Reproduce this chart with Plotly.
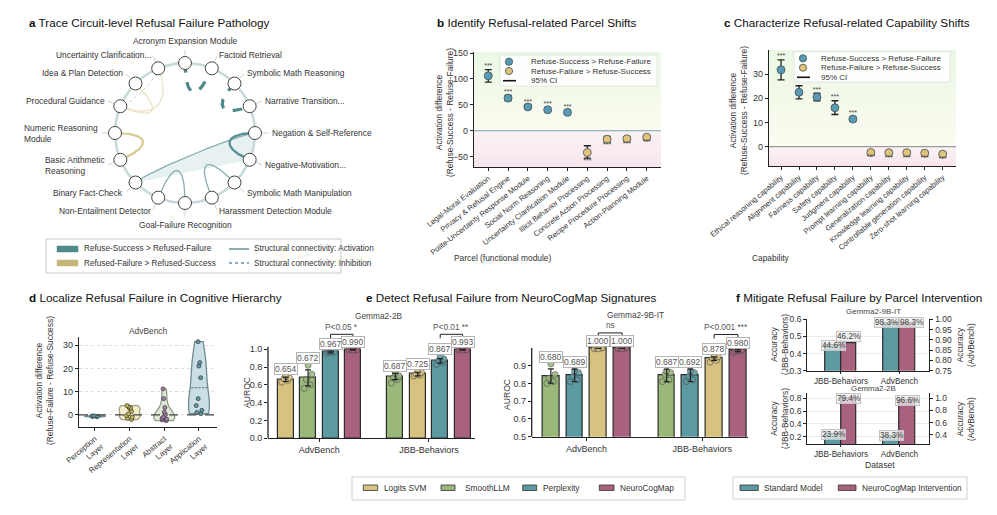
import numpy as np
import plotly.graph_objects as go

W, H = 997, 515
FONT = "Liberation Sans, Arial, sans-serif"

# ---------------- Panel a data ----------------
a_nodes = ["Acronym Expansion Module", "Factoid Retrieval", "Symbolic Math Reasoning",
           "Narrative Transition...", "Negation & Self-Reference", "Negative-Motivation...",
           "Symbolic Math Manipulation", "Harassment Detection Module", "Goal-Failure Recognition",
           "Non-Entailment Detector", "Binary Fact-Check", "Basic Arithmetic<br>Reasoning",
           "Numeric Reasoning<br>Module", "Procedural Guidance", "Idea & Plan Detection",
           "Uncertainty Clarification..."]
a_edge_src = [0, 2, 4, 4, 9, 7, 12, 14, 15, 15]
a_edge_dst = [1, 3, 10, 5, 8, 6, 11, 13, 13, 13]
a_edge_type = ["success", "success", "activation", "success_solid", "activation", "activation",
               "failure", "failure_light", "failure_light", "inhibition"]
a_ribbon = [4, 10, 5]

# ---------------- Panel b data ----------------
b_cats = ["Legal-Moral Evaluation", "Privacy & Refusal Engine", "Polite-Uncertainty Response Module",
          "Social Norm Reasoning", "Uncertainty Clarification Module", "Illicit Behavior Processing",
          "Concrete Action Processing", "Recipe Procedure Processing", "Action-Planning Module"]
b_vals = [106, 63, 46, 40.5, 35.5, -42, -16.5, -15.5, -12.5]
b_lo = [94, 58, 43, 37.5, 33, -53, -22, -19, -15.5]
b_hi = [118, 68, 49, 43.5, 38.5, -29, -11, -12, -9.5]

# ---------------- Panel c data ----------------
c_cats = ["Ethical reasoning capability", "Alignment capability", "Fairness capability",
          "Safety capability", "Judgment capability", "Prompt learning capability",
          "Generalization capability", "Knowledge learning capability",
          "Controllable generation capability", "Zero-shot learning capability"]
c_vals = [31.8, 22.5, 20.5, 16.1, 11.4, -2.4, -2.5, -2.5, -2.7, -3.1]
c_lo = [27.6, 19.8, 19.0, 13.3, 10.6, -3.1, -3.2, -3.2, -3.4, -3.8]
c_hi = [35.9, 25.2, 22.1, 19.0, 12.2, -1.7, -1.8, -1.8, -2.0, -2.4]

# ---------------- Panel d data ----------------
d_layers = ["Perception<br>Layer", "Representation<br>Layer", "Abstract<br>Layer", "Application<br>Layer"]
d_points = [
    [-0.8, -0.6, -0.5, -0.4, -0.7],
    [4.0, 3.5, 2.8, 1.5, 0.5, -0.3, -1.0, -2.0, 3.0, -1.5],
    [11.2, 7.0, 3.2, 1.2, 0.2, -0.8, -1.8, -2.5, -2.2, -1.4],
    [31.5, 22.5, 21.0, 16.0, 7.0, 4.0, 2.0, 1.0, 0.5],
]

# ---------------- Panel e data ----------------
e_groups = ["AdvBench", "JBB-Behaviors"]
e_methods_legend = ["Logits SVM", "SmoothLLM", "Perplexity", "NeuroCogMap"]
e2b_methods = [["Logits SVM", "SmoothLLM", "Perplexity", "NeuroCogMap"],
               ["SmoothLLM", "Logits SVM", "Perplexity", "NeuroCogMap"]]
e2b_heights = [[0.663, 0.678, 0.970, 0.995], [0.695, 0.722, 0.870, 0.995]]
e2b_err = [[0.025, 0.09, 0.010, 0.004], [0.035, 0.020, 0.025, 0.004]]
e2b_labels = [["0.654", "0.672", "0.967", "0.990"], ["0.687", "0.725", "0.867", "0.993"]]
e2b_points = [[[0.63, 0.65, 0.67, 0.68, 0.70], [0.56, 0.60, 0.66, 0.72, 0.82],
               [0.955, 0.965, 0.97, 0.975, 0.98], [0.99, 0.995, 1.0, 0.995, 0.99]],
              [[0.62, 0.66, 0.68, 0.70, 0.73], [0.70, 0.71, 0.72, 0.74, 0.76],
               [0.83, 0.85, 0.87, 0.89, 0.92], [0.99, 0.995, 1.0, 0.995, 0.99]]]
e2b_sig = [("P<0.05 *", 2, 3), ("P<0.01 **", 2, 3)]

e9b_methods = [["SmoothLLM", "Perplexity", "Logits SVM", "NeuroCogMap"],
               ["SmoothLLM", "Perplexity", "Logits SVM", "NeuroCogMap"]]
e9b_heights = [[0.842, 0.846, 0.998, 0.998], [0.845, 0.846, 0.940, 0.985]]
e9b_err = [[0.04, 0.035, 0.0, 0.0], [0.035, 0.035, 0.01, 0.006]]
e9b_labels = [["0.680", "0.689", "1.000", "1.000"], ["0.687", "0.692", "0.878", "0.980"]]
e9b_points = [[[0.80, 0.81, 0.83, 0.85, 0.91], [0.81, 0.82, 0.84, 0.86, 0.87],
               [0.995, 1.0, 1.0, 1.0, 0.995], [0.995, 1.0, 1.0, 1.0, 0.995]],
              [[0.81, 0.82, 0.85, 0.86, 0.87], [0.81, 0.82, 0.84, 0.86, 0.87],
               [0.92, 0.93, 0.94, 0.95, 0.955], [0.975, 0.98, 0.985, 0.99, 0.99]]]
e9b_sig = [("ns", 2, 3), ("P<0.001 ***", 2, 3)]

# ---------------- Panel f data ----------------
f_datasets = ["JBB-Behaviors", "AdvBench"]
f_series = ["Standard Model", "NeuroCogMap Intervention"]
f9b_acc = [[0.446, 0.462], [0.983, 0.983]]   # [dataset][series]
f9b_text = [["44.6%", "46.2%"], ["98.3%", "98.3%"]]
f2b_acc = [[0.239, 0.794], [0.383, 0.966]]
f2b_text = [["23.9%", "79.4%"], ["38.3%", "96.6%"]]

# ---------------- styles ----------------
C_POS, C_NEG = "#5a9ab4", "#e0c37a"
M_COL = {"Logits SVM": "#d8c27f", "SmoothLLM": "#9bb87b", "Perplexity": "#5c9aa1", "NeuroCogMap": "#a8627f"}
F_COL = {"Standard Model": "#5c9aa1", "NeuroCogMap Intervention": "#a8627f"}
A_STYLE = {
    "success": dict(color="#4f8a8b", width=3.2, dash="dash"),
    "success_solid": dict(color="#5b9294", width=2.4, dash="solid"),
    "activation": dict(color="#88aeb2", width=1.3, dash="solid"),
    "failure": dict(color="#d9ca92", width=2.2, dash="solid"),
    "failure_light": dict(color="#ebe2c4", width=1.3, dash="solid"),
    "inhibition": dict(color="#c9d6d8", width=1.0, dash="dot"),
}
A_BEND = [0.48, 0.56, 0.8, 0.55, 0.41, 0.42, 0.5, 0.44, 0.47, 0.9]
TITLE_SIZE = 11.7

fig = go.Figure()
shapes, anns = [], []


def P(x, y):
    return x / W, 1 - y / H


def dom_x(x0, x1):
    return [x0 / W, x1 / W]


def dom_y(top, bottom):
    return [1 - bottom / H, 1 - top / H]


def text(x, y, s, size=8, xa="left", ya="middle", color="#333", **kw):
    X, Y = P(x, y)
    anns.append(dict(x=X, y=Y, xref="paper", yref="paper", text=s, showarrow=False,
                     xanchor=xa, yanchor=ya, font=dict(size=size, color=color, family=FONT), **kw))


def rect(x0, y0, x1, y1, fill, line="#333", lw=0.8):
    X0, Y0 = P(x0, y0)
    X1, Y1 = P(x1, y1)
    shapes.append(dict(type="rect", xref="paper", yref="paper", x0=X0, x1=X1, y0=Y1, y1=Y0,
                       fillcolor=fill, line=dict(color=line, width=lw)))


def hline(x0, x1, y, color, lw=1.2, dash="solid"):
    X0, Y = P(x0, y)
    X1, _ = P(x1, y)
    shapes.append(dict(type="line", xref="paper", yref="paper", x0=X0, x1=X1, y0=Y, y1=Y,
                       line=dict(color=color, width=lw, dash=dash)))


def circ(cx, cy, r, fill, line="#3d4f55"):
    X0, Y0 = P(cx - r, cy + r)
    X1, Y1 = P(cx + r, cy - r)
    shapes.append(dict(type="circle", xref="paper", yref="paper", x0=X0, x1=X1, y0=Y0, y1=Y1,
                       fillcolor=fill, line=dict(color=line, width=0.8)))


# ======================= Panel a =======================
def node_xy(i):
    ang = np.deg2rad(90 - 360.0 / len(a_nodes) * i)
    return np.array([np.cos(ang), np.sin(ang)])


def bez(i, j, k, n=80):
    p0, p3 = node_xy(i), node_xy(j)
    p1, p2 = p0 * k, p3 * k
    t = np.linspace(0, 1, n)[:, None]
    return (1 - t) ** 3 * p0 + 3 * (1 - t) ** 2 * t * p1 + 3 * (1 - t) * t ** 2 * p2 + t ** 3 * p3


# ribbon
r_a, r_b, r_c = a_ribbon
seg1 = bez(r_a, r_b, A_BEND[2])
seg2 = bez(r_b, r_c, 1.0)
ang_c = np.deg2rad(90 - 22.5 * r_c)
ang_a = np.deg2rad(90 - 22.5 * r_a)
arc = np.column_stack([np.cos(np.linspace(ang_c, ang_a, 10)), np.sin(np.linspace(ang_c, ang_a, 10))])
poly = np.vstack([seg1, seg2, arc])
fig.add_trace(go.Scatter(x=poly[:, 0], y=poly[:, 1], mode="lines", fill="toself",
                         fillcolor="rgba(205,224,224,0.45)", line=dict(width=0),
                         xaxis="x", yaxis="y", hoverinfo="skip"))
# ring
th = np.linspace(0, 2 * np.pi, 200)
fig.add_trace(go.Scatter(x=np.cos(th), y=np.sin(th), mode="lines",
                         line=dict(color="#c7d9da", width=2.6), xaxis="x", yaxis="y", hoverinfo="skip"))
# edges
for s, d, typ, k in zip(a_edge_src, a_edge_dst, a_edge_type, A_BEND):
    pts = bez(s, d, k)
    st = A_STYLE[typ]
    fig.add_trace(go.Scatter(x=pts[:, 0], y=pts[:, 1], mode="lines",
                             line=dict(color=st["color"], width=st["width"], dash=st["dash"]),
                             xaxis="x", yaxis="y", hoverinfo="skip"))
# radial ticks
tx, ty = [], []
for i in range(len(a_nodes)):
    p = node_xy(i)
    tx += [p[0] * 1.1, p[0] * 1.19, None]
    ty += [p[1] * 1.1, p[1] * 1.19, None]
fig.add_trace(go.Scatter(x=tx, y=ty, mode="lines", line=dict(color="#c4c4c4", width=0.8),
                         xaxis="x", yaxis="y", hoverinfo="skip"))
# nodes
nxy = np.array([node_xy(i) for i in range(len(a_nodes))])
fig.add_trace(go.Scatter(x=nxy[:, 0], y=nxy[:, 1], mode="markers",
                         marker=dict(size=13, color="white", line=dict(color="#444", width=1)),
                         xaxis="x", yaxis="y", hoverinfo="skip"))
# node labels
for i, lab in enumerate(a_nodes):
    p = node_xy(i) * 1.21
    if abs(p[0]) < 0.1:
        xa = "center"
        ya = "bottom" if p[1] > 0 else "top"
    else:
        xa = "left" if p[0] > 0 else "right"
        ya = "middle"
    anns.append(dict(x=p[0], y=p[1], xref="x", yref="y", text=lab, showarrow=False,
                     xanchor=xa, yanchor=ya, align="left",
                     font=dict(size=8.4, color="#333", family=FONT)))

# legend a
rect(46, 239, 341, 273, "white", line="#c8c8c8", lw=1)
rect(57, 246, 78, 252, "#4f8a8b", line="#4f8a8b", lw=0.5)
text(82, 249, "Refuse-Success > Refused-Failure", 8.2)
rect(57, 260, 78, 266, "#c6b679", line="#c6b679", lw=0.5)
text(82, 263, "Refused-Failure > Refused-Success", 8.2)
hline(229, 249, 249, "#6f9aa0", 1.6)
text(252, 249, "Structural connectivity: Activation", 8.2)
hline(229, 249, 263, "#6f8ea6", 1.3, "dot")
text(252, 263, "Structural connectivity: Inhibition", 8.2)


# ======================= Panels b & c =======================
def gradient(xdom, yref, ymin, ymax, n=60):
    edges = np.linspace(ymin, ymax, n + 1)
    for lo, hi in zip(edges[:-1], edges[1:]):
        m = (lo + hi) / 2
        if m >= 0:
            t = m / ymax
            c0, c1 = (252, 251, 240), (233, 248, 227)
        else:
            t = m / ymin
            c0, c1 = (251, 242, 244), (247, 228, 238)
        col = tuple(int(round(c0[q] + (c1[q] - c0[q]) * t)) for q in range(3))
        shapes.append(dict(type="rect", xref=xdom, yref=yref, x0=0, x1=1, y0=lo,
                           y1=hi + (ymax - ymin) * 0.002, fillcolor="rgb(%d,%d,%d)" % col,
                           line=dict(width=0), layer="below"))


def shift_panel(cats, vals, lo, hi, xa, ya, ms=8):
    xs = list(range(len(cats)))
    cols = [C_POS if v > 0 else C_NEG for v in vals]
    fig.add_trace(go.Scatter(
        x=xs, y=vals, mode="markers", xaxis=xa, yaxis=ya,
        marker=dict(size=ms, color=cols, line=dict(color="#3f5157", width=0.8)),
        error_y=dict(type="data", symmetric=False,
                     array=[h - v for h, v in zip(hi, vals)],
                     arrayminus=[v - l for v, l in zip(vals, lo)],
                     color="#222", thickness=1.3, width=3.5),
        hoverinfo="skip"))
    sy = [h if v > 0 else l for v, h, l in zip(vals, hi, lo)]
    sp = ["top center" if v > 0 else "bottom center" for v in vals]
    fig.add_trace(go.Scatter(x=xs, y=sy, mode="text", text=["***"] * len(xs), textposition=sp,
                             textfont=dict(size=7, color="#444", family=FONT), cliponaxis=False,
                             xaxis=xa, yaxis=ya, hoverinfo="skip"))


B_RANGE = [-70, 152]
C_RANGE = [-8, 40]
gradient("x2 domain", "y2", B_RANGE[0], B_RANGE[1])
gradient("x3 domain", "y3", C_RANGE[0], C_RANGE[1])
shapes.append(dict(type="line", xref="x2 domain", yref="y2", x0=0, x1=1, y0=0, y1=0,
                   line=dict(color="#7aa3ab", width=1.1), layer="below"))
shapes.append(dict(type="line", xref="x3 domain", yref="y3", x0=0, x1=1, y0=0, y1=0,
                   line=dict(color="#9a9a9a", width=1.3), layer="below"))
shift_panel(b_cats, b_vals, b_lo, b_hi, "x2", "y2")
shift_panel(c_cats, c_vals, c_lo, c_hi, "x3", "y3")

# legends b, c
for (bx0, by0, bx1, by1, mx, tx0, ry) in [(500, 55, 657, 86, 509, 529, [61.7, 71, 80.7]),
                                          (794, 51.7, 950, 82, 803, 819, [58.3, 67.7, 77.3])]:
    rect(bx0, by0, bx1, by1, "rgba(255,255,255,0.9)", line="#dddddd", lw=0.8)
    circ(mx, ry[0], 3.6, C_POS)
    circ(mx, ry[1], 3.6, C_NEG)
    hline(mx - 6, mx + 7, ry[2], "#111", 1.6)
    text(tx0, ry[0], "Refuse-Success > Refuse-Failure", 8.0)
    text(tx0, ry[1], "Refuse-Failure > Refuse-Success", 8.0)
    text(tx0, ry[2], "95% CI", 8.0)

# axis titles b, c
text(445, 113, "Activation difference<br>(Refuse-Success - Refuse-Failure)", 8.4, xa="center",
     textangle=-90)
text(738, 111, "Activation difference<br>(Refuse-Success - Refuse-Failure)", 8.4, xa="center",
     textangle=-90)
text(503, 258, "Parcel (functional module)", 8.4, xa="center")
text(771, 258, "Capability", 8.4, xa="center")

# ======================= Panel d =======================
D_FILL = ["#bcd5dd", "#f4edcc", "#dfe9d3", "#c9dfe5"]
D_LINE = ["#6d8e98", "#a69f7c", "#8d9d84", "#6f8b91"]
D_PT = ["#5f9aaa", "#c8b955", "#a77fae", "#5f9aaa"]
for i, pts in enumerate(d_points):
    fig.add_trace(go.Violin(
        x=[i] * len(pts), y=pts, xaxis="x4", yaxis="y4", spanmode="hard", points="all",
        pointpos=0, jitter=0.35, width=0.6, scalemode="width", side="both",
        fillcolor=D_FILL[i], line=dict(color=D_LINE[i], width=1.3),
        marker=dict(size=4, color=D_PT[i], line=dict(color="#333", width=0.7)),
        meanline=dict(visible=(i == 3), color="#6f8b91", width=1.2),
        box=dict(visible=False), hoverinfo="skip", name=d_layers[i]))
shapes.append(dict(type="line", xref="x4 domain", yref="y4", x0=0, x1=1, y0=0, y1=0,
                   line=dict(color="#444", width=1.2, dash="dash")))
text(148, 331, "AdvBench", 8.4, xa="center", color="#444")
text(44, 381, "Activation difference<br>(Refuse-Failure - Refuse-Success)", 8.4, xa="center",
     textangle=-90)

# ======================= Panel e =======================
E_SLOT, E_BARW = 0.205, 0.145
E_JIT = [-0.035, 0.02, -0.015, 0.035, 0.0]


def draw_e(xa, ya, methods, heights, errs, pts, labels, sigs, upx):
    xs, ys, cols, es = [], [], [], []
    for g in range(len(e_groups)):
        for s in range(4):
            xs.append(g + (s - 1.5) * E_SLOT)
            ys.append(heights[g][s])
            cols.append(M_COL[methods[g][s]])
            es.append(errs[g][s])
    fig.add_trace(go.Bar(x=xs, y=ys, width=E_BARW,
                         marker=dict(color=cols, line=dict(color="#2b2b2b", width=1.2)),
                         xaxis=xa, yaxis=ya, hoverinfo="skip"))
    px_, py_, pc_ = [], [], []
    for g in range(len(e_groups)):
        for s in range(4):
            x0 = g + (s - 1.5) * E_SLOT
            for j, v in enumerate(pts[g][s]):
                px_.append(x0 + E_JIT[j % len(E_JIT)])
                py_.append(v)
                pc_.append(M_COL[methods[g][s]])
    fig.add_trace(go.Scatter(x=px_, y=py_, mode="markers", xaxis=xa, yaxis=ya,
                             marker=dict(size=6, color=pc_, opacity=0.85,
                                         line=dict(color="#4a4a4a", width=0.7)),
                             cliponaxis=False, hoverinfo="skip"))
    fig.add_trace(go.Scatter(x=xs, y=ys, mode="markers", marker=dict(size=1, opacity=0),
                             xaxis=xa, yaxis=ya,
                             error_y=dict(type="data", array=es, color="#222", thickness=1.2, width=3),
                             hoverinfo="skip"))
    tops = {}
    for g in range(len(e_groups)):
        for s in range(4):
            x0 = g + (s - 1.5) * E_SLOT
            top = max(max(pts[g][s]), heights[g][s] + errs[g][s])
            tops[(g, s)] = top
            anns.append(dict(x=x0, y=top, xref=xa, yref=ya, text=labels[g][s],
                             showarrow=False, xanchor="center", yanchor="bottom", yshift=1,
                             bgcolor="white", bordercolor="#b5b5b5", borderwidth=1, borderpad=0,
                             font=dict(size=8.5, color="#555", family=FONT)))
    for g, (lab, s1, s2) in enumerate(sigs):
        xa1 = g + (s1 - 1.5) * E_SLOT
        xa2 = g + (s2 - 1.5) * E_SLOT
        yb = max(tops[(g, s1)], tops[(g, s2)]) + 15 * upx
        fig.add_trace(go.Scatter(x=[xa1, xa1, xa2, xa2], y=[yb - 4 * upx, yb, yb, yb - 4 * upx],
                                 mode="lines", line=dict(color="#222", width=1), xaxis=xa, yaxis=ya,
                                 hoverinfo="skip"))
        anns.append(dict(x=(xa1 + xa2) / 2, y=yb, xref=xa, yref=ya, text=lab, showarrow=False,
                         xanchor="center", yanchor="bottom", yshift=0.5,
                         font=dict(size=8.3, color="#555", family=FONT)))


E2_DOM = (322.6, 438.3)
E2_RANGE = [0, 1.3]
E9_DOM = (321.3, 436.7)
E9_RANGE = [0.5, 1.15]
up2 = (E2_RANGE[1] - E2_RANGE[0]) / (E2_DOM[1] - E2_DOM[0])
up9 = (E9_RANGE[1] - E9_RANGE[0]) / (E9_DOM[1] - E9_DOM[0])
draw_e("x5", "y5", e2b_methods, e2b_heights, e2b_err, e2b_points, e2b_labels, e2b_sig, up2)
draw_e("x6", "y6", e9b_methods, e9b_heights, e9b_err, e9b_points, e9b_labels, e9b_sig, up9)
shapes.append(dict(type="line", xref="x5 domain", yref="y5", x0=0, x1=0, y0=0, y1=1.03,
                   line=dict(color="#222", width=1.3)))
shapes.append(dict(type="line", xref="x6 domain", yref="y6", x0=0, x1=0, y0=0.5, y1=1.0,
                   line=dict(color="#222", width=1.3)))
text(378, 315.5, "Gemma2-2B", 8.3, xa="center", color="#444")
text(635, 315, "Gemma2-9B-IT", 8.3, xa="center", color="#444")
text(247, 393, "AUROC", 8.6, xa="center", textangle=-90)
text(507, 395, "AUROC", 8.6, xa="center", textangle=-90)

# legend e
rect(352, 477, 685, 500, "white", line="#cfcfcf", lw=1)
for (sx0, sx1, tx0, m) in zip([363.3, 441, 522.7, 599.3], [377.7, 455, 536.7, 614],
                              [381.7, 462.7, 541, 618], e_methods_legend):
    rect(sx0, 485, sx1, 490.5, M_COL[m], line="#333", lw=0.8)
    text(tx0, 488, m, 8.3)

# ======================= Panel f =======================
F_OFF, F_BARW = 0.135, 0.27
F_XRANGE = [-0.576, 1.51]
F_XDOM = (807.3, 929.3)
F_LW, F_LH = 25.0, 9.5


def draw_f(xa, yl, yr, acc, txt, rng_l, rng_r, ydom):
    ypx = ydom[1] - ydom[0]
    xupx = (F_XRANGE[1] - F_XRANGE[0]) / (F_XDOM[1] - F_XDOM[0])
    for di in range(len(f_datasets)):
        yax = yl if di == 0 else yr
        rng = rng_l if di == 0 else rng_r
        xs = [di + (si - 0.5) * 2 * F_OFF for si in range(len(f_series))]
        fig.add_trace(go.Bar(x=xs, y=acc[di], width=F_BARW, xaxis=xa, yaxis=yax,
                             marker=dict(color=[F_COL[s] for s in f_series],
                                         line=dict(color="#2b2b2b", width=1.2)),
                             hoverinfo="skip"))
        # simple label de-overlap (like adjustText)
        lab_py = [(v - rng[0]) / (rng[1] - rng[0]) * ypx for v in acc[di]]
        xsh, ysh = [0.0, 0.0], [0.0, 0.0]
        dx = (xs[1] - xs[0]) / xupx
        dy = lab_py[1] - lab_py[0]
        if abs(dy) < F_LH and dx < F_LW:
            if abs(dy) < 1:
                push = (F_LW - dx) / 2
                xsh = [-push, push]
            else:
                hi = 1 if dy > 0 else 0
                ysh[hi] += F_LH - abs(dy)
        for si in range(len(f_series)):
            anns.append(dict(x=xs[si], y=acc[di][si], xref=xa, yref=yax, text=txt[di][si],
                             showarrow=False, xanchor="center", yanchor="middle",
                             xshift=xsh[si], yshift=ysh[si],
                             bgcolor="rgba(235,235,235,0.75)", bordercolor="#c4c4c4", borderwidth=1,
                             borderpad=0, font=dict(size=8.2, color="#444", family=FONT)))


F9_DOM = (319.3, 370.7)
F2_DOM = (393.3, 444.3)
F9_L, F9_R = [0.3, 0.6], [0.75, 1.0]
F2_L, F2_R = [0.081, 0.878], [0.247, 1.08]
draw_f("x7", "y7", "y8", f9b_acc, f9b_text, F9_L, F9_R, F9_DOM)
draw_f("x9", "y9", "y10", f2b_acc, f2b_text, F2_L, F2_R, F2_DOM)
text(873, 311, "Gemma2-9B-IT", 8.0, xa="center", color="#444")
text(873, 388.3, "Gemma2-2B", 7.9, xa="center", color="#444")
text(880, 465, "Dataset", 8.6, xa="center", color="#333")
text(779, 345, "Accuracy<br>(JBB-Behaviors)", 8.4, xa="center", textangle=-90)
text(965, 345, "Accuracy<br>(AdvBench)", 8.4, xa="center", textangle=-90)
text(779, 419, "Accuracy<br>(JBB-Behaviors)", 8.4, xa="center", textangle=-90)
text(965, 419, "Accuracy<br>(AdvBench)", 8.4, xa="center", textangle=-90)

rect(733, 477, 967, 499, "white", line="#cfcfcf", lw=1)
rect(740, 485, 758.3, 490.5, F_COL["Standard Model"], line="#333", lw=0.8)
text(762.3, 488, "Standard Model", 8.3)
rect(838.3, 485, 856, 490.5, F_COL["NeuroCogMap Intervention"], line="#333", lw=0.8)
text(860, 488, "NeuroCogMap Intervention", 8.3)

# ======================= Titles =======================
text(27, 22.7, "<b>a</b> Trace Circuit-level Refusal Failure Pathology", TITLE_SIZE, color="#111")
text(435, 22.7, "<b>b</b> Identify Refusal-related Parcel Shifts", TITLE_SIZE, color="#111")
text(722, 22.7, "<b>c</b> Characterize Refusal-related Capability Shifts", TITLE_SIZE, color="#111")
text(27, 297.3, "<b>d</b> Localize Refusal Failure in Cognitive Hierarchy", TITLE_SIZE, color="#111")
text(364, 297.3, "<b>e</b> Detect Refusal Failure from NeuroCogMap Signatures", TITLE_SIZE, color="#111")
text(734, 297.3, "<b>f</b> Mitigate Refusal Failure by Parcel Intervention", TITLE_SIZE, color="#111")

# ======================= Axes =======================
TF = dict(size=9, color="#333", family=FONT)
TFF = dict(size=8.5, color="#333", family=FONT)
TFX = dict(size=8.2, color="#333", family=FONT)


def ax(**kw):
    d = dict(showline=True, linecolor="#222", linewidth=1.3, ticks="outside", ticklen=3, tickwidth=1,
             tickcolor="#222", tickfont=TF, showgrid=False, zeroline=False, fixedrange=True,
             automargin=False)
    d.update(kw)
    return d


R = 1.2857
XL = dict(size=7.6, color="#333", family=FONT)
layout_axes = dict(
    xaxis=dict(domain=dom_x(95, 275), range=[-R, R], visible=False, anchor="y", automargin=False),
    yaxis=dict(domain=dom_y(43, 223), range=[-R, R], visible=False, anchor="x", automargin=False),
    xaxis2=ax(domain=dom_x(474, 661), range=[-0.72, 8.72], tickvals=list(range(len(b_cats))),
              ticktext=b_cats, tickangle=-38, tickfont=XL, anchor="y2"),
    yaxis2=ax(domain=dom_y(52, 167), range=B_RANGE, tickvals=[-50, 0, 50, 100, 150], anchor="x2"),
    xaxis3=ax(domain=dom_x(769, 956), range=[-0.67, 9.74], tickvals=list(range(len(c_cats))),
              ticktext=c_cats, tickangle=-40, tickfont=XL, anchor="y3"),
    yaxis3=ax(domain=dom_y(50, 166), range=C_RANGE, tickvals=[0, 10, 20, 30], anchor="x3"),
    xaxis4=ax(domain=dom_x(79, 217), range=[-0.46, 3.52], tickvals=list(range(len(d_layers))),
              ticktext=d_layers, tickangle=-40, tickfont=dict(size=7.8, color="#333", family=FONT),
              anchor="y4"),
    yaxis4=ax(domain=dom_y(337, 427), range=[-5.2, 33.5], tickvals=[0, 10, 20, 30], anchor="x4",
              showgrid=True, gridcolor="#dcdcdc", griddash="dot", gridwidth=0.8),
    xaxis5=ax(domain=dom_x(268, 475), range=[-0.468, 1.42], tickvals=[0, 1], ticktext=e_groups, anchor="y5"),
    yaxis5=ax(domain=dom_y(*E2_DOM), range=E2_RANGE, tickvals=[0, 0.2, 0.4, 0.6, 0.8, 1.0],
              tickformat=".1f", anchor="x5", showline=False),
    xaxis6=ax(domain=dom_x(531.7, 748), range=[-0.473, 1.395], tickvals=[0, 1], ticktext=e_groups, anchor="y6"),
    yaxis6=ax(domain=dom_y(*E9_DOM), range=E9_RANGE, tickvals=[0.5, 0.6, 0.7, 0.8, 0.9],
              tickformat=".1f", anchor="x6", showline=False),
    xaxis7=ax(domain=dom_x(*F_XDOM), range=F_XRANGE, tickvals=[0, 1], ticktext=f_datasets, anchor="y7",
              tickfont=TFX, ticklen=2),
    yaxis7=ax(domain=dom_y(*F9_DOM), range=F9_L, tickvals=[0.3, 0.4, 0.5, 0.6], tickformat=".1f",
              anchor="x7", showgrid=True, gridcolor="#ececec", tickfont=TFF),
    yaxis8=ax(overlaying="y7", side="right", anchor="x7", range=F9_R,
              tickvals=[0.75, 0.8, 0.85, 0.9, 0.95, 1.0], tickformat=".2f", tickfont=TFF),
    xaxis9=ax(domain=dom_x(*F_XDOM), range=F_XRANGE, tickvals=[0, 1], ticktext=f_datasets, anchor="y9",
              tickfont=TFX, ticklen=2),
    yaxis9=ax(domain=dom_y(*F2_DOM), range=F2_L, tickvals=[0.2, 0.4, 0.6, 0.8], tickformat=".1f",
              anchor="x9", showgrid=True, gridcolor="#ececec", tickfont=TFF),
    yaxis10=ax(overlaying="y9", side="right", anchor="x9", range=F2_R,
               tickvals=[0.4, 0.6, 0.8, 1.0], tickformat=".1f", tickfont=TFF),
)

fig.update_layout(
    width=W, height=H, margin=dict(l=0, r=0, t=0, b=0, pad=0, autoexpand=False),
    paper_bgcolor="white", plot_bgcolor="white", showlegend=False,
    font=dict(family=FONT, color="#333"),
    shapes=shapes, annotations=anns, bargap=0, **layout_axes)

fig.write_html("out.html")
